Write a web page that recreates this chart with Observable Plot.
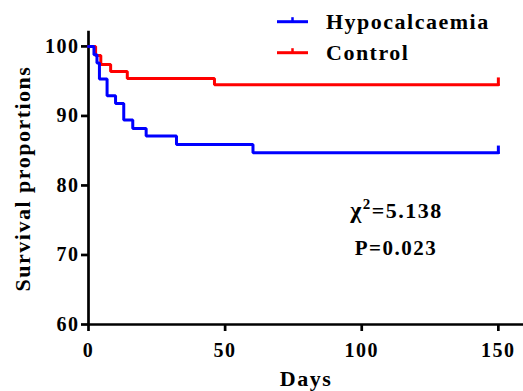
<!DOCTYPE html>
<html>
<head>
<meta charset="utf-8">
<script src="https://cdn.jsdelivr.net/npm/d3@7"></script>
<script src="https://cdn.jsdelivr.net/npm/@observablehq/plot@0.6"></script>
<style>
  html, body { margin: 0; padding: 0; background: #fff; }
  #wrap { position: relative; width: 523px; height: 391px; overflow: hidden; }
  #wrap svg { display: block; }
  #overlay { position: absolute; left: 0; top: 0; pointer-events: none; }
</style>
</head>
<body>
<div id="wrap"></div>
<script>
// ---- data ----
const groups = ["Hypocalcaemia", "Control"];
const groupColors = ["#0000ff", "#ff0000"];

const hypoDays = [0, 2, 3.1, 4, 6.8, 9.9, 12.9, 16.2, 21.1, 32.2, 60.2, 150];
const hypoSurv = [100, 98.8, 97.6, 95.3, 92.9, 91.8, 89.4, 88.2, 87.1, 85.9, 84.7, 84.7];

const ctrlDays = [0, 2.6, 4.5, 8.1, 14.2, 46.1, 150];
const ctrlSurv = [100, 98.7, 97.4, 96.4, 95.4, 94.5, 94.5];

const xTicks = [0, 50, 100, 150];
const yTicks = [60, 70, 80, 90, 100];
const xTitle = "Days";
const yTitle = "Survival proportions";
const chiLabel = "χ";
const chiSup = "2";
const chiValue = "=5.138";
const pLabel = "P=0.023";

// ---- build tables ----
const hypo = hypoDays.map((d, i) => ({day: d, s: hypoSurv[i], group: groups[0]}));
const ctrl = ctrlDays.map((d, i) => ({day: d, s: ctrlSurv[i], group: groups[1]}));
const ends = [ctrl[ctrl.length - 1], hypo[hypo.length - 1]];

const font = "'Liberation Serif', 'Times New Roman', serif";

const chart = Plot.plot({
  width: 523,
  height: 391,
  marginLeft: 88,
  marginRight: 0,
  marginTop: 32,
  marginBottom: 67,
  style: {
    fontFamily: font,
    fontSize: "20px",
    fontWeight: "bold",
    letterSpacing: "1.5px",
    background: "white",
    color: "black"
  },
  x: {domain: [0, 159.2]},
  y: {domain: [60, 102]},
  color: {domain: groups, range: groupColors},
  marks: [
    Plot.axisX({ticks: xTicks, tickSize: 7, tickPadding: 11, strokeWidth: 2.7, label: null, fontSize: 20}),
    Plot.axisY({ticks: yTicks, tickSize: 7, tickPadding: 2, strokeWidth: 2.7, label: null, fontSize: 20}),
    Plot.ruleY([60], {strokeWidth: 2.7}),
    Plot.ruleX([0], {y1: 60, y2: 102, strokeWidth: 2.7, strokeLinecap: "square"}),
    Plot.line(ctrl, {x: "day", y: "s", stroke: "group", strokeWidth: 3, curve: "step-after", strokeLinejoin: "miter"}),
    Plot.line(hypo, {x: "day", y: "s", stroke: "group", strokeWidth: 3, curve: "step-after", strokeLinejoin: "miter"}),
    Plot.ruleX(ends, {x: "day", y1: "s", y2: d => d.s + 0.75, stroke: "group", strokeWidth: 3, strokeLinecap: "square"}),
    Plot.text([xTitle], {text: d => d, frameAnchor: "bottom", lineAnchor: "bottom", dy: 61, fontSize: 22}),
    Plot.text([yTitle], {text: d => d, frameAnchor: "left", textAnchor: "middle", rotate: -90, dx: -66, fontSize: 22})
  ]
});

const wrap = document.getElementById("wrap");
wrap.appendChild(chart);

// ---- legend and statistics overlay ----
const ns = "http://www.w3.org/2000/svg";
const ov = document.createElementNS(ns, "svg");
ov.setAttribute("id", "overlay");
ov.setAttribute("width", 523);
ov.setAttribute("height", 391);
ov.style.fontFamily = font;
ov.style.fontWeight = "bold";
ov.style.letterSpacing = "1.5px";

function el(tag, attrs, text) {
  const e = document.createElementNS(ns, tag);
  for (const k in attrs) e.setAttribute(k, attrs[k]);
  if (text != null) e.textContent = text;
  return e;
}

groups.forEach((g, i) => {
  const ly = 21.7 + i * 31;
  ov.appendChild(el("line", {x1: 277, x2: 308, y1: ly, y2: ly, stroke: groupColors[i], "stroke-width": 3}));
  ov.appendChild(el("line", {x1: 292.5, x2: 292.5, y1: ly - 4.5, y2: ly, stroke: groupColors[i], "stroke-width": 2.5}));
  ov.appendChild(el("text", {x: 326, y: ly + 7.5, "font-size": 22, fill: "black"}, g));
});

const t1 = el("text", {x: 396.5, y: 218, "text-anchor": "middle", "font-size": 22, fill: "black"});
t1.appendChild(el("tspan", {"font-size": 24}, chiLabel));
t1.appendChild(el("tspan", {dy: -9, "font-size": 15}, chiSup));
t1.appendChild(el("tspan", {dy: 9}, chiValue));
ov.appendChild(t1);
ov.appendChild(el("text", {x: 396, y: 255, "text-anchor": "middle", "font-size": 21, fill: "black"}, pLabel));

wrap.appendChild(ov);
</script>
</body>
</html>
